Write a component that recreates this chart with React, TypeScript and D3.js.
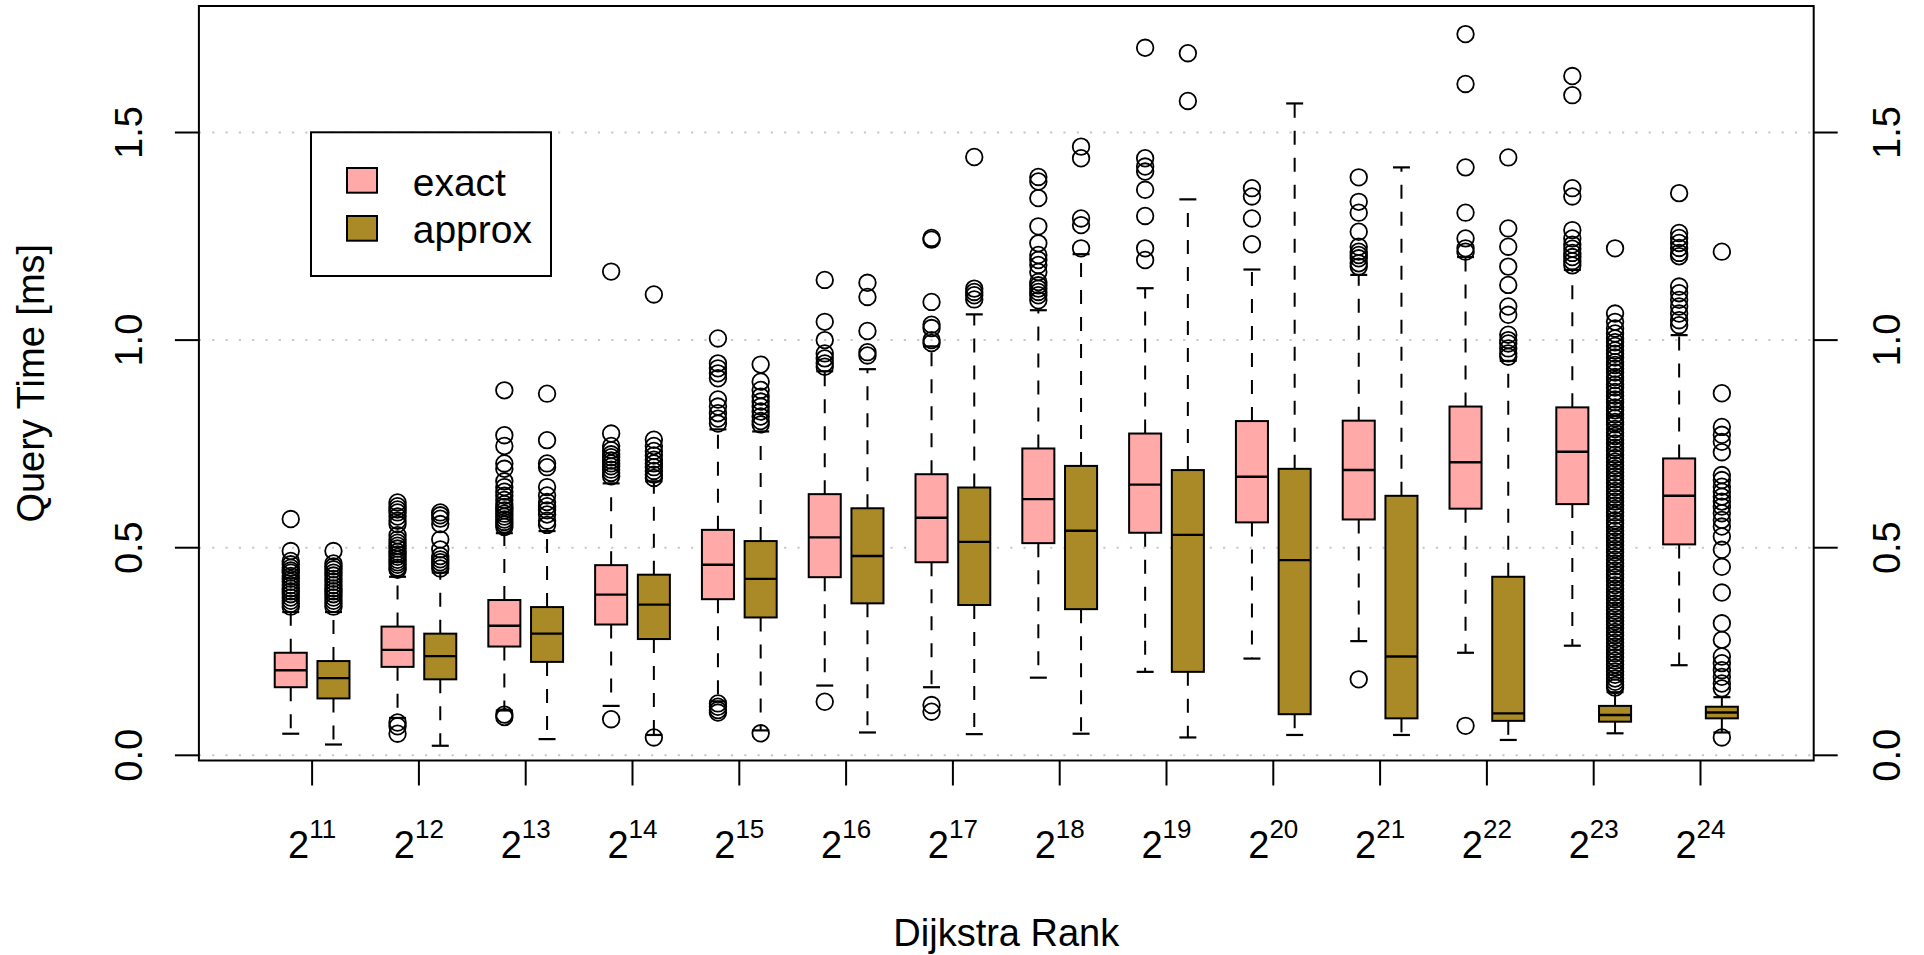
import React from "react";
import * as d3 from "d3";

// ---- data ----
const ranks = [11, 12, 13, 14, 15, 16, 17, 18, 19, 20, 21, 22, 23, 24];
const seriesNames = ["exact", "approx"];
const seriesColors = ["#FFA9A9", "#A98A27"];
const yTicks = [0, 0.5, 1.0, 1.5];

// [lower whisker, Q1, median, Q3, upper whisker]
const exactStats = [
  [0.052, 0.164, 0.205, 0.247, 0.345],
  [0.09, 0.213, 0.254, 0.31, 0.43],
  [0.108, 0.262, 0.312, 0.374, 0.535],
  [0.119, 0.315, 0.387, 0.458, 0.655],
  [0.13, 0.376, 0.459, 0.543, 0.785],
  [0.168, 0.429, 0.525, 0.629, 0.925],
  [0.164, 0.465, 0.572, 0.677, 0.985],
  [0.187, 0.511, 0.617, 0.739, 1.072],
  [0.201, 0.536, 0.652, 0.775, 1.125],
  [0.233, 0.561, 0.671, 0.805, 1.17],
  [0.275, 0.568, 0.687, 0.806, 1.157],
  [0.247, 0.594, 0.706, 0.84, 1.2],
  [0.264, 0.605, 0.731, 0.838, 1.169],
  [0.217, 0.508, 0.625, 0.715, 1.012],
];
const approxStats = [
  [0.026, 0.137, 0.186, 0.227, 0.345],
  [0.023, 0.183, 0.239, 0.293, 0.44],
  [0.039, 0.225, 0.293, 0.357, 0.54],
  [0.049, 0.28, 0.363, 0.435, 0.66],
  [0.06, 0.332, 0.425, 0.516, 0.78],
  [0.055, 0.366, 0.48, 0.595, 0.93],
  [0.051, 0.362, 0.514, 0.645, 1.062],
  [0.052, 0.352, 0.541, 0.697, 1.207],
  [0.043, 0.201, 0.531, 0.687, 1.339],
  [0.049, 0.099, 0.47, 0.69, 1.57],
  [0.049, 0.089, 0.238, 0.625, 1.416],
  [0.037, 0.083, 0.101, 0.43, 0.95],
  [0.053, 0.081, 0.097, 0.119, 0.152],
  [0.055, 0.089, 0.103, 0.117, 0.14],
];

const exactOutliers = [
  [0.569, 0.492, 0.468, 0.46, 0.452, 0.445, 0.44, 0.432, 0.425, 0.418, 0.41, 0.402, 0.395, 0.388, 0.38, 0.372, 0.365, 0.358],
  [0.609, 0.6, 0.592, 0.585, 0.575, 0.565, 0.557, 0.53, 0.52, 0.512, 0.505, 0.498, 0.49, 0.484, 0.478, 0.471, 0.465, 0.459, 0.452, 0.447, 0.079, 0.07, 0.052],
  [0.879, 0.771, 0.745, 0.703, 0.69, 0.66, 0.646, 0.635, 0.625, 0.615, 0.605, 0.598, 0.59, 0.582, 0.575, 0.568, 0.562, 0.556, 0.55, 0.098, 0.092],
  [1.165, 0.775, 0.745, 0.735, 0.725, 0.718, 0.71, 0.703, 0.696, 0.688, 0.68, 0.672, 0.087],
  [1.004, 0.944, 0.932, 0.92, 0.908, 0.857, 0.84, 0.824, 0.811, 0.799, 0.125, 0.117, 0.109, 0.103],
  [1.145, 1.044, 1.0, 0.968, 0.956, 0.944, 0.936, 0.129],
  [1.246, 1.242, 1.092, 1.037, 1.029, 1.0, 0.993, 0.121, 0.105],
  [1.393, 1.382, 1.342, 1.274, 1.233, 1.205, 1.193, 1.181, 1.164, 1.14, 1.132, 1.124, 1.116, 1.108, 1.096],
  [1.704, 1.438, 1.418, 1.406, 1.362, 1.299, 1.221, 1.193],
  [1.366, 1.346, 1.293, 1.231],
  [1.392, 1.333, 1.307, 1.261, 1.225, 1.213, 1.205, 1.197, 1.185, 1.177, 0.183],
  [1.737, 1.617, 1.416, 1.307, 1.245, 1.221, 1.213, 0.071],
  [1.636, 1.59, 1.366, 1.346, 1.265, 1.245, 1.23, 1.22, 1.21, 1.2, 1.19, 1.18],
  [1.354, 1.258, 1.246, 1.234, 1.222, 1.21, 1.202, 1.129, 1.113, 1.097, 1.081, 1.064, 1.048, 1.036],
];
const approxOutliers = [
  [0.492, 0.462, 0.455, 0.448, 0.44, 0.433, 0.425, 0.418, 0.41, 0.402, 0.395, 0.388, 0.38, 0.372, 0.365, 0.358],
  [0.585, 0.578, 0.57, 0.557, 0.52, 0.496, 0.48, 0.472, 0.465, 0.458, 0.45],
  [0.871, 0.759, 0.703, 0.694, 0.646, 0.626, 0.61, 0.6, 0.59, 0.58, 0.565, 0.555],
  [1.11, 0.76, 0.745, 0.733, 0.722, 0.712, 0.703, 0.694, 0.685, 0.676, 0.668, 0.043],
  [0.941, 0.9, 0.88, 0.864, 0.852, 0.84, 0.828, 0.816, 0.805, 0.797, 0.053],
  [1.138, 1.104, 1.022, 0.971, 0.963],
  [1.441, 1.124, 1.116, 1.108, 1.098],
  [1.466, 1.438, 1.293, 1.277, 1.221],
  [1.691, 1.576],
  [],
  [],
  [1.44, 1.269, 1.225, 1.177, 1.133, 1.081, 1.061, 1.013, 1.0, 0.992, 0.98, 0.968, 0.96],
  [1.221, 1.064, 1.044, 1.028, 1.016, 1.004, 0.995, 0.986, 0.975, 0.967, 0.958, 0.947, 0.94, 0.931, 0.922, 0.911, 0.904, 0.893, 0.886,
   0.875, 0.866, 0.857, 0.85, 0.838, 0.831, 0.821, 0.812, 0.803, 0.797, 0.786, 0.777, 0.769, 0.76, 0.751, 0.741, 0.734, 0.724,
   0.716, 0.707, 0.698, 0.69, 0.681, 0.672, 0.664, 0.655, 0.646, 0.637, 0.629, 0.62, 0.611, 0.602, 0.594, 0.585, 0.577, 0.566,
   0.559, 0.55, 0.541, 0.532, 0.524, 0.515, 0.506, 0.497, 0.489, 0.48, 0.471, 0.462, 0.455, 0.445, 0.436, 0.428, 0.419, 0.41,
   0.401, 0.393, 0.384, 0.376, 0.366, 0.358, 0.349, 0.341, 0.332, 0.323, 0.315, 0.306, 0.297, 0.289, 0.28, 0.271, 0.262, 0.254,
   0.246, 0.236, 0.228, 0.219, 0.211, 0.202, 0.194, 0.185, 0.177, 0.169, 0.163],
  [1.213, 0.872, 0.791, 0.772, 0.755, 0.73, 0.675, 0.663, 0.647, 0.635, 0.623, 0.611, 0.599, 0.583, 0.567, 0.551, 0.527, 0.495,
   0.454, 0.392, 0.318, 0.278, 0.238, 0.222, 0.205, 0.189, 0.173, 0.161, 0.043],
];

const FONT = "'Liberation Sans', Arial, Helvetica, sans-serif";

export default function App() {
  const W = 1924;
  const H = 955;
  const left = 198.9, right = 1813.7, top = 6, bottom = 760.5;

  const x = d3.scaleLinear().domain([-0.06, 15.06]).range([left, right]);
  const y = d3.scaleLinear().domain([-0.0125, 1.8047]).range([bottom, top]);

  const offsets = [-0.2, 0.2];
  const boxW = x(0.3) - x(0);
  const capW = boxW * 0.53;
  const statsBySeries = [exactStats, approxStats];
  const outBySeries = [exactOutliers, approxOutliers];

  const boxes: React.ReactNode[] = [];
  const points: React.ReactNode[] = [];
  ranks.forEach((r, i) => {
    seriesNames.forEach((name, s) => {
      const st = statsBySeries[s][i];
      const cx = x(i + 1 + offsets[s]);
      const [lo, q1, med, q3, hi] = st;
      boxes.push(
        <g key={`b-${r}-${name}`}>
          <line x1={cx} x2={cx} y1={y(q1)} y2={y(lo)} stroke="#000" strokeWidth={2} strokeDasharray="14 13" />
          <line x1={cx} x2={cx} y1={y(q3)} y2={y(hi)} stroke="#000" strokeWidth={2} strokeDasharray="14 13" />
          <line x1={cx - capW / 2} x2={cx + capW / 2} y1={y(lo)} y2={y(lo)} stroke="#000" strokeWidth={2.2} />
          <line x1={cx - capW / 2} x2={cx + capW / 2} y1={y(hi)} y2={y(hi)} stroke="#000" strokeWidth={2.2} />
          <rect x={cx - boxW / 2} y={y(q3)} width={boxW} height={y(q1) - y(q3)} fill={seriesColors[s]} stroke="#000" strokeWidth={2} />
          <line x1={cx - boxW / 2} x2={cx + boxW / 2} y1={y(med)} y2={y(med)} stroke="#000" strokeWidth={2.4} />
        </g>
      );
      outBySeries[s][i].forEach((v, j) => {
        points.push(
          <circle key={`o-${r}-${name}-${j}`} cx={cx} cy={y(v)} r={8.3} fill="none" stroke="#000" strokeWidth={1.8} />
        );
      });
    });
  });

  return (
    <svg width={W} height={H} style={{ position: "absolute", left: 0, top: 0, background: "#fff", display: "block" }} fontFamily={FONT}>
      <rect x={0} y={0} width={W} height={H} fill="#fff" />
      {/* grid */}
      {yTicks.map((t) => (
        <line key={`g-${t}`} x1={left} x2={right} y1={y(t)} y2={y(t)} stroke="#C8C8C8" strokeWidth={2} strokeDasharray="2.2 11.1" />
      ))}
      {boxes}
      {points}
      {/* frame */}
      <rect x={left} y={top} width={right - left} height={bottom - top} fill="none" stroke="#000" strokeWidth={2} />
      {/* left axis */}
      {yTicks.map((t) => (
        <g key={`yl-${t}`}>
          <line x1={left - 24} x2={left} y1={y(t)} y2={y(t)} stroke="#000" strokeWidth={2} />
          <text transform={`translate(142,${y(t)}) rotate(-90)`} textAnchor="middle" fontSize={38}>{t.toFixed(1)}</text>
          <line x1={right} x2={right + 24} y1={y(t)} y2={y(t)} stroke="#000" strokeWidth={2} />
          <text transform={`translate(1900,${y(t)}) rotate(-90)`} textAnchor="middle" fontSize={38}>{t.toFixed(1)}</text>
        </g>
      ))}
      {/* x axis */}
      {ranks.map((r, i) => (
        <g key={`xt-${r}`}>
          <line x1={x(i + 1)} x2={x(i + 1)} y1={bottom} y2={bottom + 25} stroke="#000" strokeWidth={2} />
          <text x={x(i + 1)} y={858} textAnchor="middle" fontSize={38}>
            <tspan>2</tspan>
            <tspan dy={-20} fontSize={26}>{r}</tspan>
          </text>
        </g>
      ))}
      <text x={(left + right) / 2} y={946} textAnchor="middle" fontSize={38}>Dijkstra Rank</text>
      <text transform={`translate(43.5,${(top + bottom) / 2}) rotate(-90)`} textAnchor="middle" fontSize={38}>Query Time [ms]</text>
      {/* legend */}
      <g>
        <rect x={311} y={132.3} width={240} height={143.7} fill="#fff" stroke="#000" strokeWidth={2} />
        {seriesNames.map((name, s) => (
          <g key={`lg-${name}`}>
            <rect x={347} y={168 + s * 48} width={30} height={24.7} fill={seriesColors[s]} stroke="#000" strokeWidth={2} />
            <text x={412.7} y={195.5 + s * 47.2} fontSize={39}>{name}</text>
          </g>
        ))}
      </g>
    </svg>
  );
}
